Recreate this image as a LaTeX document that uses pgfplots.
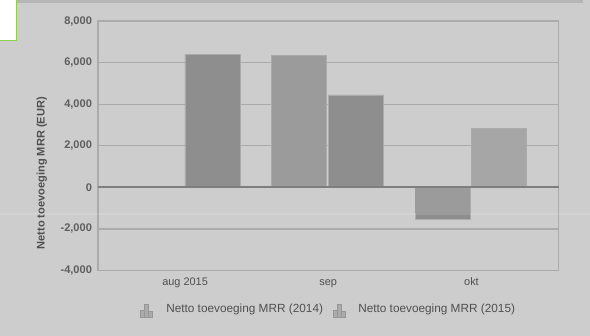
\documentclass[border=0pt]{standalone}
\usepackage{fontspec}
\setmainfont{Liberation Sans}
\usepackage{pgfplots}
\pgfplotsset{compat=1.18}
\definecolor{pagebg}{HTML}{CDCDCD}
\definecolor{stripc}{HTML}{B6B6B6}
\definecolor{gridc}{HTML}{ABABAB}
\definecolor{zeroc}{HTML}{7E7E7E}
\definecolor{barA}{HTML}{9B9B9B}
\definecolor{barB}{HTML}{8E8E8E}
\definecolor{barC}{HTML}{A6A6A6}
\definecolor{txt}{HTML}{505050}
\definecolor{ticktxt}{HTML}{5E5E5E}
\definecolor{boxg}{HTML}{8FD14F}
\definecolor{iconc}{HTML}{ABABAB}
\definecolor{iconl}{HTML}{969696}
\begin{document}
\begin{tikzpicture}
\useasboundingbox (0,0) rectangle (442.5pt,252pt);
% page background, top strip and the corner box
\begin{scope}[x=0.75pt,y=-0.75pt,yshift=252pt]
\fill[pagebg] (0,0) rectangle (590,336);
\fill[stripc] (0,0) rectangle (583,3);
\fill[white] (0,0) rectangle (17,41);
\draw[boxg,line width=0.9pt] (0,40.5) -- (16.8,40.5) -- (16.8,0);
\end{scope}
\begin{axis}[
  at={(73.5pt,49.1pt)}, anchor=south west,
  scale only axis, width=345.4pt, height=187.1pt,
  xmin=-0.608, xmax=2.608, ymin=-4000, ymax=8000,
  ytick={-4000,-2000,0,2000,4000,6000,8000},
  xtick={0,1,2}, xticklabels={aug 2015,sep,okt},
  major tick length=0pt,
  ymajorgrids, grid style={gridc,line width=0.95pt},
  axis line style={gridc,line width=0.95pt},
  /pgf/number format/assume math mode=true,
  /pgf/number format/1000 sep={,},
  scaled y ticks=false,
  xticklabel style={font=\fontsize{8.2}{9}\selectfont,text=txt,
    text height=6.5pt,text depth=1.5pt,yshift=-1.5pt},
  yticklabel style={font=\bfseries\fontsize{8.3}{9}\selectfont,text=ticktxt,xshift=-1pt},
  ylabel={Netto toevoeging MRR (EUR)},
  ylabel style={font=\bfseries\fontsize{8.3}{9}\selectfont,text=txt,
    at={(axis description cs:-0.122,0.39)},anchor=center},
  ybar, bar width=0.385,
  clip=false,
]
\addplot[fill=barB,draw=gridc,line width=0.4pt,bar shift=0.192] coordinates {(0,6400)(1,4450)};
\addplot[fill=barA,draw=gridc,line width=0.4pt,bar shift=-0.203] coordinates {(1,6350)};
\addplot[fill=barB,draw=gridc,line width=0.4pt,bar shift=-0.2] coordinates {(2,-1520)};
\addplot[fill=barA,draw=none,bar shift=-0.2] coordinates {(2,-1230)};
\addplot[fill=barC,draw=gridc,line width=0.4pt,bar shift=0.19] coordinates {(2,2850)};
% zero line in front of the bars
\addplot[sharp plot,zeroc,line width=1.5pt] coordinates {(-0.608,0)(2.608,0)};
\end{axis}
\begin{scope}[x=0.75pt,y=-0.75pt,yshift=252pt]
% faint rule running across the page
\draw[white,opacity=0.1,line width=0.8pt] (0,214) -- (590,214);
% legend
\foreach \ox in {140,333}{
  \draw[fill=iconc,draw=iconl,line width=0.35pt] (\ox,310) rectangle ++(4,7);
  \draw[fill=iconc,draw=iconl,line width=0.35pt] (\ox+4.3,304.5) rectangle ++(4,12.5);
  \draw[fill=iconc,draw=iconl,line width=0.35pt] (\ox+8.6,311.5) rectangle ++(4,5.5);
}
\node[anchor=west,inner sep=0pt,text=txt,font=\fontsize{8.85}{10}\selectfont] at (166,309.5) {Netto toevoeging MRR (2014)};
\node[anchor=west,inner sep=0pt,text=txt,font=\fontsize{8.85}{10}\selectfont] at (358,309.5) {Netto toevoeging MRR (2015)};
\end{scope}
\end{tikzpicture}
\end{document}
